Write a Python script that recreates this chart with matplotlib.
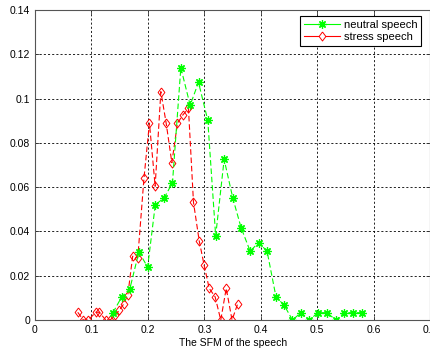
import matplotlib.pyplot as plt
from matplotlib.lines import Line2D

plt.rcParams['font.family'] = ['Liberation Sans', 'DejaVu Sans']

# neutral speech
neutral_x = [0.138, 0.1537, 0.168, 0.184, 0.1995, 0.213, 0.229, 0.2435, 0.2583, 0.2748,
             0.2896, 0.306, 0.320, 0.335, 0.3505, 0.365, 0.381, 0.396, 0.411, 0.4268,
             0.4415, 0.456, 0.471, 0.486, 0.501, 0.517, 0.533, 0.548, 0.563, 0.579]
neutral_y = [0.0033, 0.0105, 0.0141, 0.0307, 0.0239, 0.052, 0.0552, 0.062, 0.1139, 0.097,
             0.1073, 0.0902, 0.038, 0.0725, 0.0549, 0.0417, 0.0311, 0.0349, 0.0311, 0.0105,
             0.0066, 0.0, 0.0033, 0.0, 0.0033, 0.0033, 0.0, 0.0033, 0.0033, 0.0033]

# stress speech
stress_x = [0.0757, 0.0857, 0.0945, 0.1076, 0.114, 0.1253, 0.133, 0.142, 0.1495, 0.157,
            0.1645, 0.173, 0.182, 0.193, 0.2027, 0.2128, 0.2229, 0.2323, 0.2424, 0.2523,
            0.2619, 0.2718, 0.2807, 0.2908, 0.2996, 0.3085, 0.319, 0.329, 0.3387, 0.349,
            0.3587]
stress_y = [0.0035, 0.0, 0.0, 0.0035, 0.0035, 0.0, 0.0, 0.0021, 0.0045, 0.0072,
            0.0115, 0.0288, 0.028, 0.064, 0.0889, 0.0604, 0.1031, 0.0889, 0.071, 0.0888,
            0.0926, 0.0955, 0.0531, 0.0358, 0.0247, 0.0143, 0.0105, 0.0, 0.0143, 0.0,
            0.0071]

xticks = [0, 0.1, 0.2, 0.3, 0.4, 0.5, 0.6, 0.7]
yticks = [0, 0.02, 0.04, 0.06, 0.08, 0.1, 0.12, 0.14]

# matlab-like marker shapes
star = (8, 2, 0)
diamond = [(0, 1), (0.75, 0), (0, -1), (-0.75, 0), (0, 1)]

fig = plt.figure(figsize=(4.31, 3.54), dpi=100)
ax = fig.add_axes([0.0812, 0.096, 0.917, 0.876])

ax.plot(stress_x, stress_y, color='#ff0000', linestyle='--', dashes=(5, 2.5),
        linewidth=0.8, marker=diamond, markersize=6.5, markerfacecolor='none',
        markeredgewidth=0.7)
ax.plot(neutral_x, neutral_y, color='#00ff00', linestyle='--', dashes=(5, 2.5),
        linewidth=0.8, marker=star, markersize=6, markeredgewidth=0.9)

ax.set_xlim(0, 0.7)
ax.set_ylim(0, 0.14)
ax.set_xticks(xticks)
ax.set_xticklabels(['0', '0.1', '0.2', '0.3', '0.4', '0.5', '0.6', '0.7'])
ax.set_yticks(yticks)
ax.set_yticklabels(['0', '0.02', '0.04', '0.06', '0.08', '0.1', '0.12', '0.14'])
ax.tick_params(labelsize=7.5, direction='in', length=3, width=0.6, colors='#333333',
               top=True, right=True)
for lbl in ax.get_xticklabels() + ax.get_yticklabels():
    lbl.set_color('black')
ax.grid(True, color='black', linestyle=(0, (2.5, 2.5)), linewidth=0.6)
for s in ax.spines.values():
    s.set_color('#555555')
    s.set_linewidth(0.8)

ax.set_xlabel('The SFM of the speech', fontsize=7.5, labelpad=2)

handles = [Line2D([0], [0], color='#00ff00', linewidth=0.8, marker=star, markersize=6,
                  markeredgewidth=0.9),
           Line2D([0], [0], color='#ff0000', linewidth=0.8, marker=diamond, markersize=6.5,
                  markerfacecolor='white', markeredgewidth=0.7)]
leg = ax.legend(handles, ['neutral speech', 'stress speech'], loc='upper right',
                bbox_to_anchor=(0.977, 0.981), fontsize=8, fancybox=False, framealpha=1,
                edgecolor='black', borderaxespad=0, handlelength=3.2, borderpad=0.35,
                labelspacing=0.2, handletextpad=0.35)
leg.get_frame().set_linewidth(0.8)

fig.savefig('out.png', dpi=100, facecolor='white')
